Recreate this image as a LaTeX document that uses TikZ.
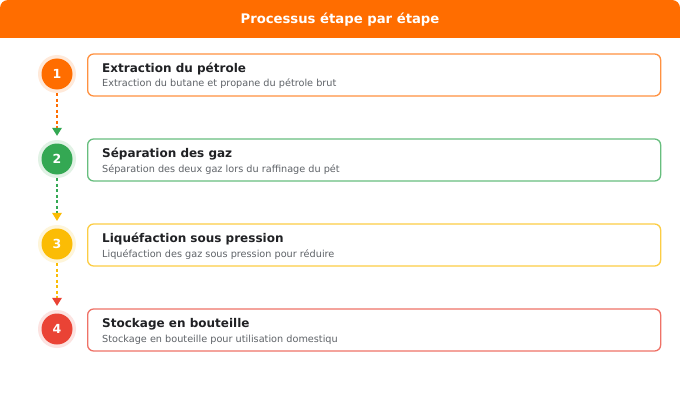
\documentclass[tikz,border=0pt]{standalone}
\usepackage{fontspec}
\setmainfont{DejaVu Sans}
\usetikzlibrary{arrows.meta}
\definecolor{cOr}{HTML}{FF6D00}
\definecolor{cGr}{HTML}{34A853}
\definecolor{cYe}{HTML}{FBBC05}
\definecolor{cRe}{HTML}{EA4335}
\definecolor{tDark}{HTML}{202124}
\definecolor{tGray}{HTML}{5F6368}
\tikzset{
  halo/.style={circle, minimum size=38pt, inner sep=0pt, fill=#1!15},
  num/.style={circle, minimum size=31pt, inner sep=0pt, fill=#1, text=white, font=\bfseries\fontsize{12.5}{14}\selectfont},
  card/.style={draw=#1!75, line width=1.3pt, rounded corners=6pt, minimum width=573pt, minimum height=42pt, anchor=west},
  ttl/.style={anchor=base west, text=tDark, font=\bfseries\fontsize{12}{14}\selectfont, inner sep=0pt},
  sub/.style={anchor=base west, text=tGray, font=\fontsize{9.7}{11}\selectfont, inner sep=0pt},
  conn/.style={draw=#1, line width=1.6pt, dash pattern=on 3pt off 2.5pt},
  tipc/.style={fill=#1, draw=none},
}
\begin{document}
\begin{tikzpicture}[x=1pt,y=-1pt]
\useasboundingbox (0,0) rectangle (680,420);
\fill[white] (0,0) rectangle (680,420);
\fill[cOr, rounded corners=8pt] (0,38) -- (0,0) -- (680,0) -- (680,38) [sharp corners] -- cycle;
\fill[cOr] (0,30) rectangle (680,38);
\node[text=white, font=\bfseries\fontsize{13.2}{15}\selectfont] (title) at (340,19.5) {Processus étape par étape};

\foreach \i/\c/\t/\s [count=\k from 0] in {
  1/cOr/Extraction du pétrole/Extraction du butane et propane du pétrole brut,
  2/cGr/Séparation des gaz/Séparation des deux gaz lors du raffinage du pét,
  3/cYe/Liquéfaction sous pression/Liquéfaction des gaz sous pression pour réduire,
  4/cRe/Stockage en bouteille/Stockage en bouteille pour utilisation domestiqu}{
  \node[halo=\c] (h\i) at (57,74+85*\k) {};
  \node[num=\c] (n\i) at (57,74+85*\k) {\i};
  \node[card=\c] (b\i) at (87,75+85*\k) {};
  \node[ttl] (t\i) at (102,72.5+85*\k) {\t};
  \node[sub] (s\i) at (102,87+85*\k) {\s};
}

\foreach \a/\b/\ca/\cb in {1/2/cOr/cGr, 2/3/cGr/cYe, 3/4/cYe/cRe}{
  \coordinate (e\a) at ([yshift=4pt]h\b.north);
  \draw[conn=\ca] (h\a.south) -- ([yshift=7pt]e\a);
  \fill[tipc=\cb] (e\a) -- ++(-5,-8) -- ++(10,0) -- cycle;
}
\end{tikzpicture}
\end{document}
